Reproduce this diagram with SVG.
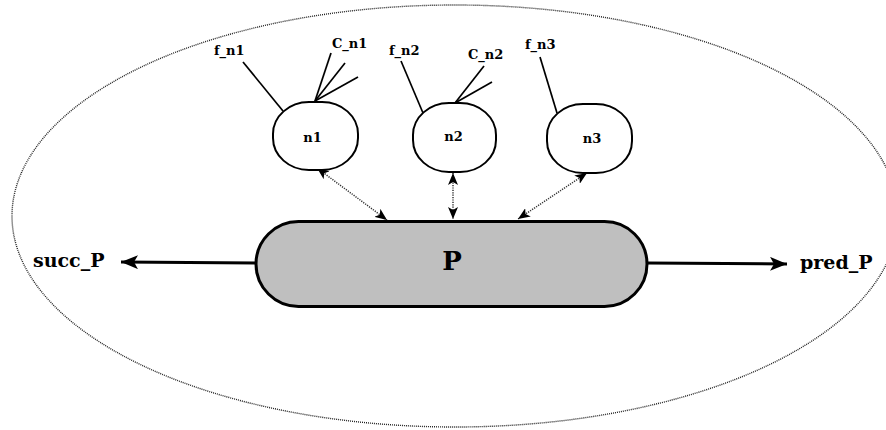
<svg xmlns="http://www.w3.org/2000/svg" width="886" height="430" viewBox="0 0 886 430">
<defs>
<style>
text{font-family:"DejaVu Serif","Liberation Serif",serif;font-weight:bold;fill:#000}
.lbl{font-size:13px}
.node{fill:#fff;stroke:#000;stroke-width:2}
.stub{stroke:#000;stroke-width:1.7;fill:none}
.dot{stroke:#333;stroke-width:1.5;stroke-dasharray:1.2 1.2;fill:none}
.bold{stroke:#000;stroke-width:3;fill:none}
</style>
<marker id="ah" viewBox="0 0 12 10" refX="12" refY="5" markerWidth="12" markerHeight="10" markerUnits="userSpaceOnUse" orient="auto-start-reverse">
<path d="M0,0 L12,5 L0,10 L3,5 Z" fill="#000"/>
</marker>
<marker id="ahb" viewBox="0 0 17 14" refX="17" refY="7" markerWidth="17" markerHeight="14" markerUnits="userSpaceOnUse" orient="auto">
<path d="M0,0 L17,7 L0,14 L4,7 Z" fill="#000"/>
</marker>
</defs>
<g id="boundary">
<ellipse cx="455" cy="216" rx="443" ry="211" fill="none" stroke="#222" stroke-width="1.4" stroke-dasharray="1 1"/>
</g>
<g id="connectors">
<line class="dot" x1="317" y1="168" x2="387" y2="220" marker-start="url(#ah)" marker-end="url(#ah)"/>
<line class="dot" x1="453" y1="173" x2="453" y2="219" marker-start="url(#ah)" marker-end="url(#ah)"/>
<line class="dot" x1="587" y1="173" x2="518" y2="219" marker-start="url(#ah)" marker-end="url(#ah)"/>
<line class="bold" x1="256" y1="263" x2="121" y2="262" marker-end="url(#ahb)"/>
<line class="bold" x1="647" y1="263" x2="787" y2="264" marker-end="url(#ahb)"/>
<line class="stub" x1="243" y1="62" x2="283" y2="111"/>
<line class="stub" x1="331" y1="53" x2="315" y2="101"/>
<line class="stub" x1="345" y1="63" x2="315" y2="101"/>
<line class="stub" x1="358" y1="77" x2="315" y2="101"/>
<line class="stub" x1="401" y1="61" x2="423" y2="113"/>
<line class="stub" x1="484" y1="66" x2="455" y2="103"/>
<line class="stub" x1="492" y1="82" x2="455" y2="103"/>
<line class="stub" x1="540" y1="57" x2="557" y2="113"/>
</g>
<g id="node-P">
<rect x="256" y="221.5" width="391" height="85" rx="42.5" ry="42.5" fill="#bfbfbf" stroke="#000" stroke-width="3"/>
<text x="452" y="270" font-size="26" text-anchor="middle">P</text>
</g>
<g id="node-n1">
<rect class="node" x="273" y="102" width="85" height="68" rx="36" ry="32"/>
<text class="lbl" x="312.5" y="142" text-anchor="middle">n1</text>
</g>
<g id="node-n2">
<rect class="node" x="413" y="103" width="83" height="69" rx="36" ry="32"/>
<text class="lbl" x="453.5" y="141" text-anchor="middle">n2</text>
</g>
<g id="node-n3">
<rect class="node" x="547" y="104" width="85" height="69" rx="36" ry="32"/>
<text class="lbl" x="592" y="143" text-anchor="middle">n3</text>
</g>
<g id="labels">
<text class="lbl" x="214" y="55">f_n1</text>
<text class="lbl" x="332" y="48">C_n1</text>
<text class="lbl" x="389" y="55">f_n2</text>
<text class="lbl" x="468" y="59">C_n2</text>
<text class="lbl" x="525" y="49">f_n3</text>
<text x="33" y="267" font-size="19">succ_P</text>
<text x="800" y="269" font-size="19">pred_P</text>
</g>
</svg>
